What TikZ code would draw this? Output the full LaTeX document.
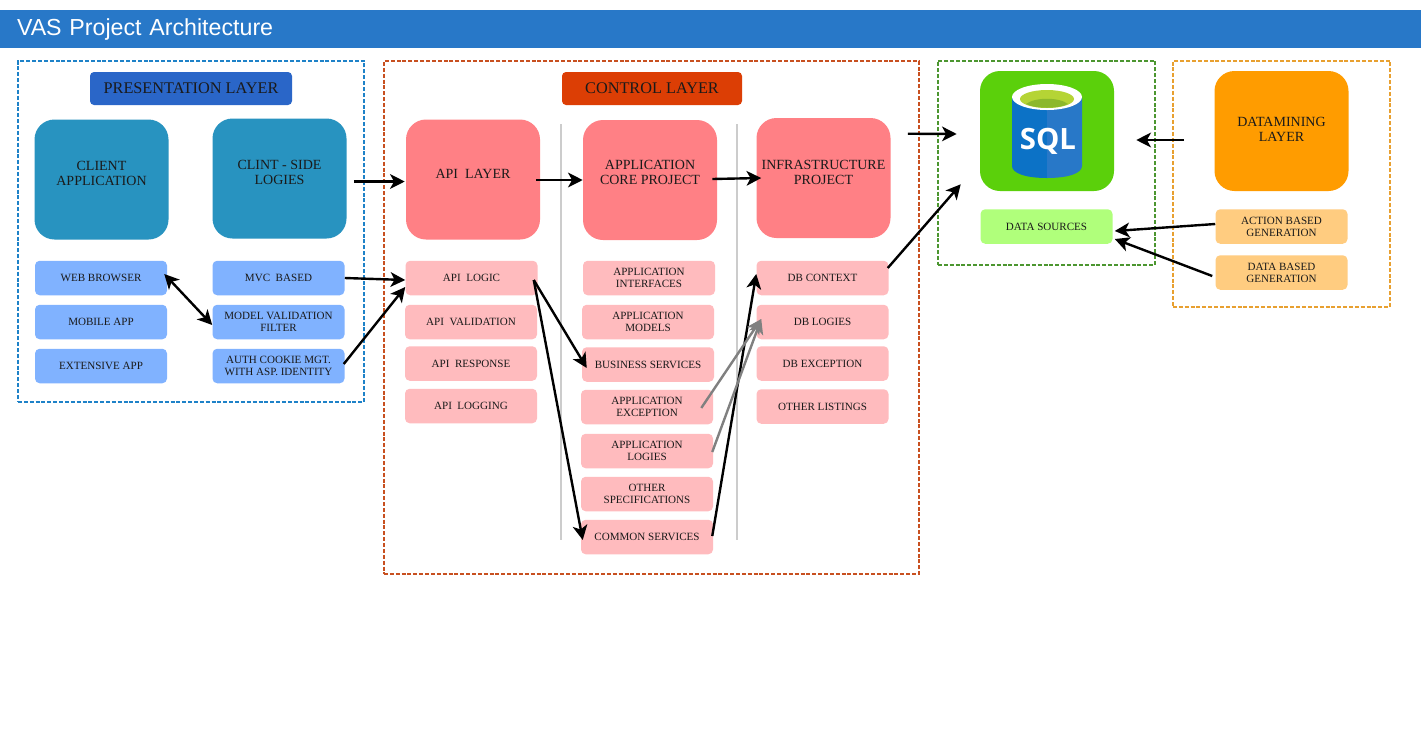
\documentclass[tikz,border=0pt]{standalone}
\usepackage{fontspec}
\setmainfont{Liberation Serif}
\newfontfamily\titlefont{Liberation Sans}
\newfontfamily\iconfont{Open Sans}
\usetikzlibrary{arrows.meta}
\definecolor{barblue}{HTML}{2878C8}
\definecolor{tagblue}{HTML}{2A66C8}
\definecolor{tagred}{HTML}{DC3E05}
\definecolor{teal}{HTML}{2893C0}
\definecolor{softblue}{HTML}{80B2FF}
\definecolor{coral}{HTML}{FF8085}
\definecolor{softpink}{HTML}{FFBBBE}
\definecolor{sqlgreen}{HTML}{5BD00B}
\definecolor{softgreen}{HTML}{B0FF7B}
\definecolor{amber}{HTML}{FF9C00}
\definecolor{softamber}{HTML}{FFCC80}
\definecolor{inktext}{HTML}{1A1A1A}
\definecolor{dashblue}{HTML}{1E82C8}
\definecolor{dashred}{HTML}{C85020}
\definecolor{dashgreen}{HTML}{4C9630}
\definecolor{dashamber}{HTML}{E8A030}
\definecolor{drumleft}{HTML}{0C72C6}
\definecolor{drumlime}{HTML}{B5D435}
\definecolor{drumolive}{HTML}{8CB82C}
\tikzset{
titlebar/.style={shape=rectangle,fill=barblue,text=white,minimum width=1421*0.75pt,minimum height=38*0.75pt,inner xsep=17*0.75pt,inner ysep=0pt,text width=1387*0.75pt,align=left,font=\titlefont\fontsize{17.4pt}{20pt}\selectfont},
layerbox/.style={shape=rectangle,draw=#1,dash pattern=on 3pt off 1.4pt,line width=1.5pt,inner sep=0pt},
tagbox/.style={shape=rectangle,rounded corners=3pt,fill=#1,text=inktext,minimum height=33*0.75pt,inner sep=0pt,font=\fontsize{12.2pt}{14pt}\selectfont},
bigbox/.style={shape=rectangle,rounded corners=15pt,fill=#1,text=inktext,minimum width=134*0.75pt,minimum height=120*0.75pt,inner sep=0pt,align=center,text depth=9pt,font=\fontsize{10.5pt}{11.4pt}\selectfont},
smallbox/.style={shape=rectangle,rounded corners=3.5pt,fill=#1,text=inktext,minimum width=132*0.75pt,minimum height=34.5*0.75pt,inner sep=0pt,align=center,font=\fontsize{8.3pt}{9pt}\selectfont},
divider/.style={draw=black!20,line width=1.6pt},
flow/.style={line width=1.8pt,-{Stealth[length=11pt,width=11pt,inset=3pt]}},
flowback/.style={line width=1.8pt,{Stealth[length=11pt,width=11pt,inset=3pt]}-{Stealth[length=11pt,width=11pt,inset=3pt]}},
flowgrey/.style={color=black!50,line width=1.8pt,-{Stealth[length=11pt,width=11pt,inset=3pt]}}
}
\begin{document}
\begin{tikzpicture}[x=0.75pt,y=-0.75pt]
\useasboundingbox[fill=white] (0,0) rectangle (1421,751);
\node[titlebar] (title) at (710.5,29) {VAS Project Architecture};
\node[layerbox=dashblue,minimum width=346*0.75pt,minimum height=341*0.75pt] (presentation) at (191,231.5) {};
\node[layerbox=dashred,minimum width=535*0.75pt,minimum height=513*0.75pt] (control) at (651.5,317.5) {};
\node[layerbox=dashgreen,minimum width=217*0.75pt,minimum height=204*0.75pt] (database) at (1046.5,163) {};
\node[layerbox=dashamber,minimum width=217*0.75pt,minimum height=246*0.75pt] (datamining) at (1281.5,184) {};
\node[tagbox=tagblue,minimum width=202*0.75pt] (presentationtag) at (191,88.5) {PRESENTATION LAYER};
\node[tagbox=tagred,minimum width=180*0.75pt] (controltag) at (652,88.5) {CONTROL LAYER};
\node[bigbox=teal] (clientapp) at (101.5,179.5) {CLIENT\\APPLICATION};
\node[bigbox=teal] (clintlogies) at (279.5,178.5) {CLINT - SIDE\\LOGIES};
\node[bigbox=coral] (apilayer) at (473,179.5) {API~~LAYER};
\node[bigbox=coral,text depth=12pt] (coreproject) at (650,180) {APPLICATION\\CORE PROJECT};
\node[bigbox=coral] (infraproject) at (823.5,178) {INFRASTRUCTURE\\PROJECT};
\node[bigbox=sqlgreen] (sqlbox) at (1047,131) {};
\node[bigbox=amber,text depth=3pt] (miningbox) at (1281.5,131) {DATAMINING\\LAYER};
\node[smallbox=softblue] (webbrowser) at (101,278) {WEB BROWSER};
\node[smallbox=softblue] (mobileapp) at (101,322) {MOBILE APP};
\node[smallbox=softblue] (extensiveapp) at (101,366) {EXTENSIVE APP};
\node[smallbox=softblue] (mvcbased) at (278.5,278) {MVC~~BASED};
\node[smallbox=softblue] (modelfilter) at (278.5,322) {MODEL VALIDATION\\FILTER};
\node[smallbox=softblue] (authcookie) at (278.5,366) {AUTH COOKIE MGT.\\WITH ASP. IDENTITY};
\node[smallbox=softpink] (apilogic) at (471.5,278) {API~~LOGIC};
\node[smallbox=softpink] (apivalidation) at (471,322) {API~~VALIDATION};
\node[smallbox=softpink] (apiresponse) at (471,363.5) {API~~RESPONSE};
\node[smallbox=softpink] (apilogging) at (471,406) {API~~LOGGING};
\node[smallbox=softpink] (appinterfaces) at (649,278) {APPLICATION\\INTERFACES};
\node[smallbox=softpink] (appmodels) at (648,322) {APPLICATION\\MODELS};
\node[smallbox=softpink] (business) at (648,364.5) {BUSINESS SERVICES};
\node[smallbox=softpink] (appexception) at (647,407) {APPLICATION\\EXCEPTION};
\node[smallbox=softpink] (applogies) at (647,451) {APPLICATION\\LOGIES};
\node[smallbox=softpink] (otherspecs) at (647,494) {OTHER\\SPECIFICATIONS};
\node[smallbox=softpink] (commonservices) at (647,537) {COMMON SERVICES};
\node[smallbox=softpink] (dbcontext) at (822.5,278) {DB CONTEXT};
\node[smallbox=softpink] (dblogies) at (822.5,322) {DB LOGIES};
\node[smallbox=softpink] (dbexception) at (822.5,363.5) {DB EXCEPTION};
\node[smallbox=softpink] (otherlistings) at (822.5,406.5) {OTHER LISTINGS};
\node[smallbox=softgreen] (datasources) at (1046.5,226.5) {DATA SOURCES};
\node[smallbox=softamber] (actionbased) at (1281.5,226.5) {ACTION BASED\\GENERATION};
\node[smallbox=softamber] (databased) at (1281.5,272.5) {DATA BASED\\GENERATION};
\fill[drumleft] (1012,97) -- (1047,97) -- (1047,178) .. controls (1025,178) and (1012,173) .. (1012,166) -- cycle;
\fill[barblue] (1047,97) -- (1082,97) -- (1082,166) .. controls (1082,173) and (1069,178) .. (1047,178) -- cycle;
\fill[white] (1047,97) ellipse[x radius=35,y radius=13];
\fill[drumlime] (1047,99) ellipse[x radius=27,y radius=9];
\fill[drumolive] (1026,104) .. controls (1035,97) and (1059,97) .. (1068,104) .. controls (1058,109) and (1036,109) .. (1026,104) -- cycle;
\node[text=white,inner sep=0pt,font=\iconfont\bfseries\fontsize{22pt}{24pt}\selectfont] (sqlword) at (1048,141) {SQL};
\draw[divider] (561,124) -- (561,540);
\draw[divider] (737,124) -- (737,540);
\path [flow] ([shift={(7,3)}]clintlogies.east) edge ([shift={(-1,2)}]apilayer.west);
\path [flow] ([shift={(-4,0.5)}]apilayer.east) edge (coreproject.west);
\path [flow] ([shift={(-5,-1)}]coreproject.east) edge ([shift={(5,0)}]infraproject.west);
\path [flow] ([shift={(17,16)}]infraproject.north east) edge ([shift={(-23,3)}]sqlbox.west);
\path [flow] ([shift={(-1,-10)}]dbcontext.east) edge ([shift={(-19,-7)}]sqlbox.south west);
\path [flow] ([shift={(-30,9)}]miningbox.west) edge ([shift={(22,9)}]sqlbox.east);
\path [flow] ([shift={(0,-2.5)}]actionbased.west) edge ([shift={(2,4.5)}]datasources.east);
\path [flow] ([shift={(-3,3.5)}]databased.west) edge ([shift={(2,12.5)}]datasources.east);
\path [flowback] ([shift={(-3,-4)}]webbrowser.east) edge ([shift={(0,3)}]modelfilter.west);
\path [flow] (mvcbased.east) edge ([shift={(0,2)}]apilogic.west);
\path [flow] ([shift={(-1,-2)}]authcookie.east) edge ([shift={(0,9)}]apilogic.west);
\path [flow] ([shift={(-4,2)}]apilogic.east) edge ([shift={(5,3.5)}]business.west);
\path [flow] ([shift={(-4,2)}]apilogic.east) edge ([shift={(2,3)}]commonservices.west);
\path [flow] ([shift={(-1,-1)}]commonservices.east) edge ([shift={(0,-4)}]dbcontext.west);
\path [flowgrey] ([shift={(-12,1)}]appexception.east) edge ([shift={(5,-3)}]dblogies.west);
\path [flowgrey] ([shift={(-1,1)}]applogies.east) edge ([shift={(5,-3)}]dblogies.west);
\end{tikzpicture}
\end{document}
